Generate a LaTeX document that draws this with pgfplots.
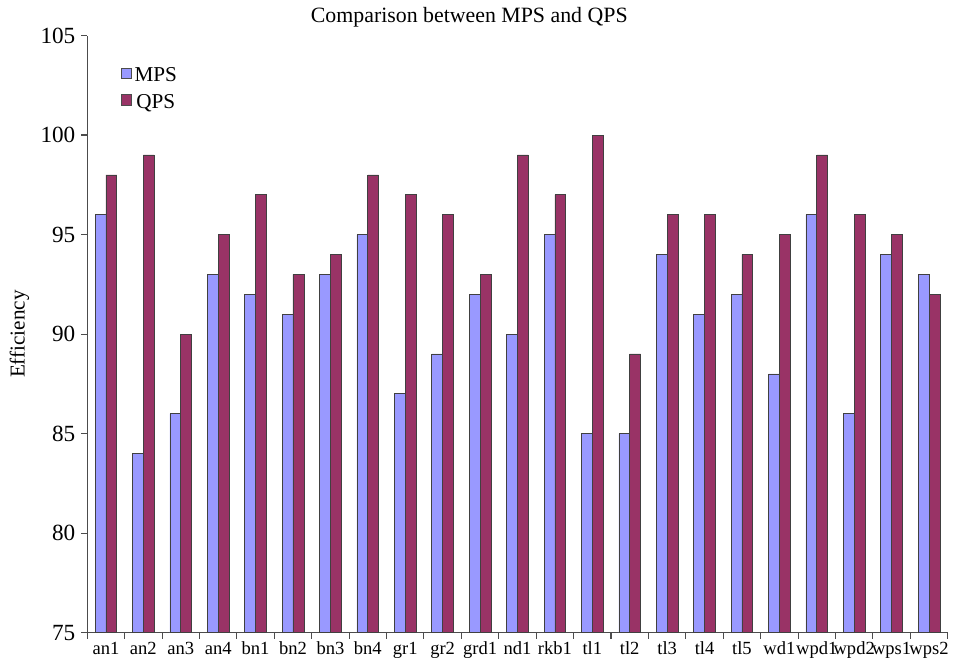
\documentclass[border={4pt 0pt 0pt 2pt}]{standalone}
\usepackage{pgfplots}
\pgfplotsset{compat=1.18}
\usepackage{fontspec}
\setmainfont{Liberation Serif}
\definecolor{mps}{HTML}{9999FF}
\definecolor{qps}{HTML}{993366}
\pgfplotstableread{
idx MPS QPS
0 96 98
1 84 99
2 86 90
3 93 95
4 92 97
5 91 93
6 93 94
7 95 98
8 87 97
9 89 96
10 92 93
11 90 99
12 95 97
13 85 100
14 85 89
15 94 96
16 91 96
17 92 94
18 88 95
19 96 99
20 86 96
21 94 95
22 93 92
}\datatable
\begin{document}
\begin{tikzpicture}
\begin{axis}[
  scale only axis,
  width=650pt, height=451pt,
  ybar=0pt, bar width=0.29,
  xmin=-0.5, xmax=22.5,
  ymin=75, ymax=105,
  ytick={75,80,...,105},
  xtick={-0.5,0.5,...,22.5},
  xticklabels={an1,an2,an3,an4,bn1,bn2,bn3,bn4,gr1,gr2,grd1,nd1,rkb1,tl1,tl2,tl3,tl4,tl5,wd1,wpd1,wpd2,wps1,wps2},
  x tick label as interval,
  axis x line*=bottom, axis y line*=left,
  axis line style={draw=black!70, line width=0.8pt},
  tick style={draw=black!70, line width=0.8pt},
  tick align=outside, major tick length=4.5pt,
  x tick label style={font=\fontsize{14}{15}\selectfont, yshift=1pt},
  y tick label style={font=\fontsize{17.5}{18}\selectfont, xshift=-1pt},
  /pgf/number format/assume math mode=true,
  ylabel={Efficiency}, ylabel style={font=\fontsize{16}{17}\selectfont, at={(axis description cs:-0.062,0.5)}},
  title={Comparison between MPS and QPS},
  title style={font=\fontsize{16.5}{17}\selectfont, at={(axis description cs:0.444,1)}, anchor=south, yshift=-3pt},
  legend style={draw=none, fill=none, at={(axis description cs:0.034,0.955)}, anchor=north west, font=\fontsize{16}{17}\selectfont, row sep=4pt},
  legend image code/.code={\draw[#1, draw=black!70] (0pt,-2pt) rectangle (8pt,6pt);},
  clip=false,
]
\addplot[fill=mps, draw=black!75, line width=0.5pt] table[x=idx, y=MPS] {\datatable};
\addplot[fill=qps, draw=black!75, line width=0.5pt] table[x=idx, y=QPS] {\datatable};
\legend{MPS, QPS}
\end{axis}
\end{tikzpicture}
\end{document}
